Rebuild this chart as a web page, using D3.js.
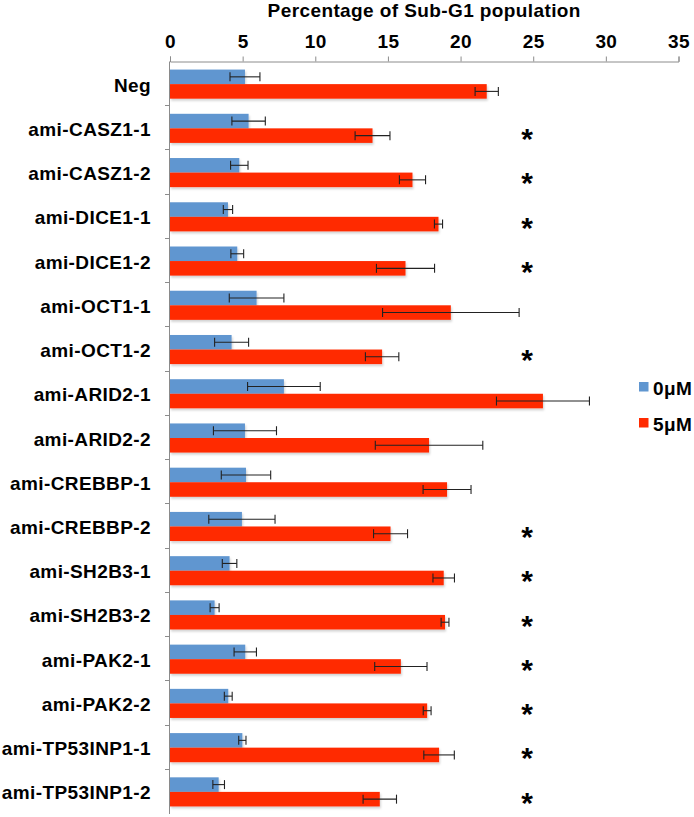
<!DOCTYPE html>
<html>
<head>
<meta charset="utf-8">
<script src="https://cdn.jsdelivr.net/npm/d3@7"></script>
<style>
  html, body { margin: 0; padding: 0; background: #fff; overflow: hidden; }
  svg { display: block; font-family: "Liberation Sans", Arial, Helvetica, sans-serif; }
  .lbl { font-weight: bold; font-size: 19px; fill: #000; letter-spacing: 0.4px; }
</style>
</head>
<body>
<div id="app"></div>
<script>
const categories = [
  "Neg", "ami-CASZ1-1", "ami-CASZ1-2", "ami-DICE1-1", "ami-DICE1-2",
  "ami-OCT1-1", "ami-OCT1-2", "ami-ARID2-1", "ami-ARID2-2", "ami-CREBBP-1",
  "ami-CREBBP-2", "ami-SH2B3-1", "ami-SH2B3-2", "ami-PAK2-1", "ami-PAK2-2",
  "ami-TP53INP1-1", "ami-TP53INP1-2"
];
const seriesNames = ["0μM", "5μM"];
const dose0 = [5.16, 5.41, 4.77, 3.99, 4.63, 5.96, 4.24, 7.84, 5.16, 5.23, 4.95, 4.1, 3.07, 5.18, 4.01, 4.98, 3.35];
const dose0Err = [1.03, 1.15, 0.6, 0.32, 0.44, 1.88, 1.17, 2.5, 2.17, 1.7, 2.28, 0.5, 0.31, 0.77, 0.27, 0.25, 0.4];
const dose5 = [21.8, 13.94, 16.69, 18.48, 16.21, 19.33, 14.6, 25.67, 17.83, 19.07, 15.18, 18.84, 18.93, 15.89, 17.7, 18.52, 14.44];
const dose5Err = [0.8, 1.2, 0.9, 0.28, 2.0, 4.7, 1.15, 3.2, 3.7, 1.65, 1.17, 0.74, 0.27, 1.8, 0.27, 1.05, 1.15];
const significant = [false, true, true, true, true, false, true, false, false, false, true, true, true, true, true, true, true];
const xTicks = [0, 5, 10, 15, 20, 25, 30, 35];

const width = 694;
const height = 817;
const margin = { top: 62, left: 170, right: 16, bottom: 3 };
const colors = ["#6096d0", "#ff2a00"];

const svg = d3
  .select("#app")
  .append("svg")
  .attr("width", width)
  .attr("height", height);

const defs = svg.append("defs");
defs
  .append("filter")
  .attr("id", "shadow")
  .attr("x", "-5%").attr("y", "-30%").attr("width", "115%").attr("height", "180%")
  .append("feDropShadow")
  .attr("dx", 1)
  .attr("dy", 2)
  .attr("stdDeviation", 1.2)
  .attr("flood-color", "#000")
  .attr("flood-opacity", 0.18);

const x = d3
  .scaleLinear()
  .domain([0, 35])
  .range([margin.left, 678.5]);

const y = d3
  .scaleBand()
  .domain(categories)
  .range([margin.top, height - margin.bottom]);

const sub = d3
  .scaleBand()
  .domain(seriesNames)
  .range([0, y.bandwidth()])
  .paddingOuter(0.52);

const rows = categories.map((c, i) => ({
  name: c,
  sig: significant[i],
  values: [
    { key: seriesNames[0], v: dose0[i], e: dose0Err[i] },
    { key: seriesNames[1], v: dose5[i], e: dose5Err[i] },
  ],
}));

// title
svg
  .append("text")
  .attr("class", "lbl")
  .attr("x", (x(0) + x(35)) / 2)
  .attr("y", 17)
  .attr("text-anchor", "middle")
  .text("Percentage of Sub-G1 population");

// top axis
const xAxis = svg
  .append("g")
  .attr("transform", `translate(0,${margin.top - 0.5})`)
  .call(d3.axisTop(x).tickValues(xTicks).tickSize(5).tickPadding(9));
xAxis.selectAll("path, line").attr("stroke", "#8c8c8c");
xAxis
  .selectAll("text")
  .attr("class", "lbl")
  .attr("font-family", null)
  .attr("font-size", null)
  .attr("fill", "#000");

// left axis with category boundary ticks
const leftAxis = svg.append("g");
leftAxis
  .append("line")
  .attr("x1", x(0) - 0.5)
  .attr("x2", x(0) - 0.5)
  .attr("y1", margin.top - 0.5)
  .attr("y2", height - margin.bottom)
  .attr("stroke", "#8c8c8c");
leftAxis
  .selectAll("line.tick")
  .data(categories.slice(1))
  .enter()
  .append("line")
  .attr("class", "tick")
  .attr("x1", x(0) - 5)
  .attr("x2", x(0))
  .attr("y1", (d) => Math.round(y(d)) - 0.5)
  .attr("y2", (d) => Math.round(y(d)) - 0.5)
  .attr("stroke", "#8c8c8c");

svg
  .append("g")
  .selectAll("text")
  .data(categories)
  .enter()
  .append("text")
  .attr("class", "lbl")
  .attr("x", 151)
  .attr("y", (d) => y(d) + y.bandwidth() / 2 + 7.5)
  .attr("text-anchor", "end")
  .text((d) => d);

// bars
const groups = svg
  .append("g")
  .selectAll("g")
  .data(rows)
  .enter()
  .append("g")
  .attr("transform", (d) => `translate(0,${y(d.name)})`);

groups
  .selectAll("rect")
  .data((d) => d.values)
  .enter()
  .append("rect")
  .attr("x", x(0))
  .attr("y", (d) => sub(d.key))
  .attr("width", (d) => x(d.v) - x(0))
  .attr("height", sub.bandwidth())
  .attr("fill", (d, i) => colors[i])
  .attr("filter", "url(#shadow)");

// error bars
const err = groups
  .selectAll("g.err")
  .data((d) => d.values)
  .enter()
  .append("g")
  .attr("class", "err")
  .attr("stroke", "#222")
  .attr("stroke-width", 1.1);

err
  .append("line")
  .attr("x1", (d) => x(d.v - d.e))
  .attr("x2", (d) => x(d.v + d.e))
  .attr("y1", (d) => sub(d.key) + sub.bandwidth() / 2)
  .attr("y2", (d) => sub(d.key) + sub.bandwidth() / 2);

[-1, 1].forEach((s) => {
  err
    .append("line")
    .attr("x1", (d) => x(d.v + s * d.e))
    .attr("x2", (d) => x(d.v + s * d.e))
    .attr("y1", (d) => sub(d.key) + sub.bandwidth() / 2 - 4.5)
    .attr("y2", (d) => sub(d.key) + sub.bandwidth() / 2 + 4.5);
});

// significance stars
groups
  .filter((d) => d.sig)
  .append("text")
  .attr("x", 527)
  .attr("y", sub(seriesNames[1]) + sub.bandwidth() / 2 + 13.5)
  .attr("text-anchor", "middle")
  .attr("font-size", 30)
  .attr("font-weight", "bold")
  .text("*");

// legend
const legend = svg
  .append("g")
  .selectAll("g")
  .data(seriesNames)
  .enter()
  .append("g")
  .attr("transform", (d, i) => `translate(639,${382 + i * 36})`);

legend
  .append("rect")
  .attr("width", 9.5)
  .attr("height", 9.5)
  .attr("fill", (d, i) => colors[i]);

legend
  .append("text")
  .attr("class", "lbl")
  .attr("x", 14)
  .attr("y", 13)
  .text((d) => d);
</script>
</body>
</html>
